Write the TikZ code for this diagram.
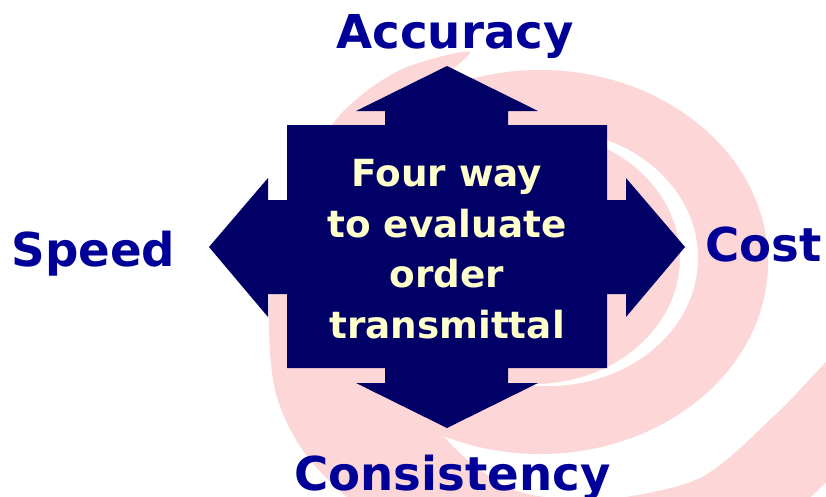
\documentclass[tikz,border=0pt]{standalone}
\usepackage{fontspec}
\setmainfont{DejaVu Sans}
\definecolor{navyfill}{HTML}{000066}
\definecolor{lblblue}{HTML}{000099}
\definecolor{hubtext}{HTML}{FFFFCC}
\definecolor{swirl}{HTML}{FDD7D7}
\begin{document}
\begin{tikzpicture}[x=0.75pt,y=-0.75pt,
  lbl/.style={font=\bfseries\fontsize{35}{42}\selectfont, text=lblblue, anchor=base, inner sep=0pt},
  hubstyle/.style={font=\bfseries\fontsize{28}{37.8}\selectfont, text=hubtext, align=center, anchor=base, inner sep=0pt},
  quad/.style={fill=navyfill, draw=none}]
\useasboundingbox (0,0) rectangle (826,497);
\clip (0,0) rectangle (826,497);
\fill[white] (0,0) rectangle (826,497);
% background swirl
\fill[swirl] (540,262) ellipse [x radius=228, y radius=192];
\fill[swirl] plot[smooth cycle] coordinates {
  (470,52) (400,70) (340,115) (295,190) (270,290) (275,390) (310,460) (380,520)
  (500,560) (650,560) (780,520) (870,430) (900,330)
  (860,330) (826,362) (775,415) (700,478) (600,500) (520,492) (470,462) (430,420)
  (390,360) (370,280) (370,200) (385,140) (425,92)};
\fill[white, even odd rule] (548,258) ellipse [x radius=150, y radius=128]
  (534,258) ellipse [x radius=146, y radius=126];
% four-way arrow
\fill[quad] (447,66) -- (538,111) -- (508,111) -- (508,125) -- (607,125) -- (607,200)
  -- (626,200) -- (626,178) -- (685,247) -- (626,317) -- (626,294) -- (607,294)
  -- (607,368) -- (508,368) -- (508,383) -- (538,383) -- (447,428) -- (356,383)
  -- (385,383) -- (385,368) -- (287,368) -- (287,294) -- (268,294) -- (268,317)
  -- (209,247) -- (268,178) -- (268,200) -- (287,200) -- (287,125) -- (385,125)
  -- (385,111) -- (356,111) -- cycle;
\node[hubstyle] (hub) at (447,338) {Four way\\to evaluate\\order\\transmittal};
\node[lbl] (acc) at (455,48) {Accuracy};
\node[lbl] (spd) at (93.5,266.7) {Speed};
\node[lbl] (cost) at (763.5,261.7) {Cost};
\node[lbl] (cons) at (452.5,490) {Consistency};
\end{tikzpicture}
\end{document}
